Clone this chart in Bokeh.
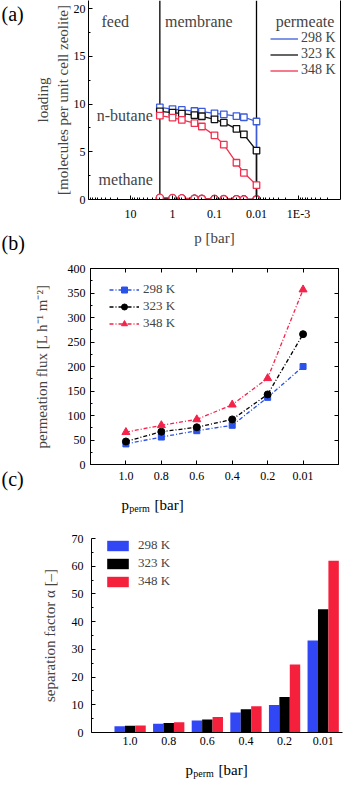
from bokeh.plotting import figure
from bokeh.layouts import column, row
from bokeh.models import (Range1d, FixedTicker, LinearAxis, Label, Span, Legend,
                          LegendItem, ColumnDataSource)
from bokeh.core.properties import value
from bokeh.transform import dodge
from bokeh.embed import file_html
from bokeh.resources import INLINE

FONT = "Liberation Serif"

# ---------------- data: panel (a) ----------------
p_bar = [2, 1, 0.6, 0.3, 0.2, 0.1, 0.06, 0.03, 0.02, 0.01]
butane_298 = [9.65, 9.47, 9.38, 9.27, 9.2, 9.03, 8.92, 8.74, 8.62, 8.17]
butane_323 = [9.23, 9.1, 9.0, 8.85, 8.72, 8.4, 8.05, 7.4, 6.83, 5.13]
butane_348 = [8.78, 8.58, 8.34, 8.0, 7.65, 6.72, 5.74, 3.85, 2.8, 1.5]
methane_298 = [0.12, 0.1, 0.08, 0.06, 0.05, 0.04, 0.03, 0.02, 0.01, 0.0]
methane_323 = [0.15, 0.12, 0.1, 0.08, 0.06, 0.05, 0.04, 0.02, 0.01, 0.0]
methane_348 = [0.2, 0.17, 0.14, 0.1, 0.08, 0.06, 0.05, 0.03, 0.02, 0.0]
temps = ["298 K", "323 K", "348 K"]
boundaries = [2, 0.01]
decade_ticks = [10, 1, 0.1, 0.01, 0.001]
decade_labels = ["10", "1", "0.1", "0.01", "1E-3"]

# ---------------- data: panel (b) ----------------
p_perm = ["1.0", "0.8", "0.6", "0.4", "0.2", "0.01"]
flux_298 = [42, 56, 69, 80, 137, 200]
flux_323 = [47, 67, 76, 92, 143, 266]
flux_348 = [66, 80, 92, 122, 176, 357]

# ---------------- data: panel (c) ----------------
sep_298 = [2.3, 3.2, 4.3, 7.2, 9.9, 33.2]
sep_323 = [2.4, 3.4, 4.7, 8.4, 12.8, 44.5]
sep_348 = [2.5, 3.7, 5.6, 9.5, 24.5, 62.0]

x_pos = list(range(1, len(p_perm) + 1))

BLUE_A, BLACK_A, RED_A = "#3b5bdb", "#111111", "#f2304f"
BLUE_B, BLACK_B, RED_B = "#2a52e8", "#000000", "#f5224a"
BLUE_C, BLACK_C, RED_C = "#3146f5", "#000000", "#f5203c"


def no_align(f):
    if "frame_align" in f.properties():
        f.frame_align = False
    return f


def style_axis(ax, size="12px"):
    ax.major_label_text_font = FONT
    ax.major_label_text_font_size = size
    ax.major_label_text_color = "black"
    ax.axis_label_text_font = FONT
    ax.axis_label_text_font_style = "normal"
    ax.axis_label_text_font_size = "15px"
    ax.axis_line_color = "black"
    ax.major_tick_line_color = "black"
    ax.minor_tick_line_color = "black"
    ax.major_tick_in = 4
    ax.major_tick_out = 0
    ax.minor_tick_in = 2
    ax.minor_tick_out = 0


def blank_axis(ax, ticks):
    ax.major_label_overrides = {t: "" for t in ticks}
    ax.major_label_text_color = None
    ax.major_label_text_font_size = "1px"
    ax.major_label_standoff = 0


def text_strip(width, height):
    f = figure(width=width, height=height, x_range=Range1d(0, width), y_range=Range1d(0, height),
               output_backend="svg", toolbar_location=None, x_axis_location=None,
               y_axis_location=None, min_border_left=0, min_border_right=0,
               min_border_top=0, min_border_bottom=0)
    f.grid.visible = False
    f.outline_line_color = None
    return no_align(f)


def add_text(f, x, y, txt, size, align="left", baseline="middle"):
    f.text(x=[x], y=[y], text=[txt], text_font=value(FONT), text_font_size=value(size),
           text_align=align, text_baseline=baseline, text_color="black")


def pperm_label(f, cx, base_y):
    x0 = cx - 31
    add_text(f, x0, base_y, "p", "15px", baseline="alphabetic")
    add_text(f, x0 + 7.8, base_y - 3.7, "perm", "10px", baseline="alphabetic")
    add_text(f, x0 + 33, base_y, "[bar]", "15px", baseline="alphabetic")


# ======================= panel (a) =======================
pa = figure(width=315, height=258, x_axis_type="log", x_range=Range1d(100, 1e-4),
            y_range=Range1d(0, 20.85), output_backend="svg", toolbar_location=None,
            min_border_left=58, min_border_right=5, min_border_top=0, min_border_bottom=59)
no_align(pa)
pa.grid.visible = False
pa.outline_line_color = None

minor_log = [m * 10.0 ** e for e in range(-4, 2) for m in range(2, 10)]
pa.xaxis.ticker = FixedTicker(ticks=decade_ticks, minor_ticks=minor_log)
pa.xaxis.major_label_overrides = {t: l for t, l in zip(decade_ticks, decade_labels)}
pa.yaxis.ticker = FixedTicker(ticks=[0, 5, 10, 15, 20], minor_ticks=[2.5, 7.5, 12.5, 17.5])
style_axis(pa.xaxis[0])
style_axis(pa.yaxis[0])
pa.xaxis.major_label_standoff = 7
pa.yaxis.major_label_standoff = 3
pa.xaxis.axis_label = "p [bar]"
pa.xaxis.axis_label_standoff = 6
pa.yaxis.axis_label = "loading\n[molecules per unit cell zeolite]"
pa.yaxis.axis_label_standoff = 0
pa_right = LinearAxis(ticker=FixedTicker(ticks=[]))
style_axis(pa_right)
pa.add_layout(pa_right, "right")

for b in boundaries:
    pa.add_layout(Span(location=b, dimension="height", line_color="black", line_width=1.3,
                       level="underlay"))

# drops of each loading curve to the permeate side (zero loading)
for load, col in [(butane_348, RED_A), (butane_298, BLUE_A), (butane_323, BLACK_A)]:
    pa.segment(x0=[p_bar[-1]], y0=[load[-1]], x1=[p_bar[-1]], y1=[0], line_color=col,
               line_width=1.3)

line_rs = []
for load, col in [(butane_298, BLUE_A), (butane_323, BLACK_A), (butane_348, RED_A)]:
    r = pa.line(p_bar, load, line_color=col, line_width=1.3)
    pa.scatter(p_bar, load, marker="square", size=6.5, line_color=col, fill_color="white",
               line_width=1.3)
    line_rs.append(r)
for load, col in [(methane_298, BLUE_A), (methane_323, BLACK_A), (methane_348, RED_A)]:
    pa.line(p_bar, load, line_color=col, line_width=1.3)
    pa.scatter(p_bar, load, marker="circle", size=7, line_color=col, fill_color="white",
               line_width=1.3)

leg_a = Legend(items=[LegendItem(label=t, renderers=[r]) for t, r in zip(temps, line_rs)],
               location=(182, 121), orientation="vertical")
leg_a.glyph_width = 28
leg_a.glyph_height = 15
leg_a.label_height = 15
leg_a.spacing = 0
leg_a.padding = 0
leg_a.margin = 0
leg_a.label_standoff = 3
leg_a.border_line_color = None
leg_a.background_fill_alpha = 0
leg_a.label_text_font = FONT
leg_a.label_text_font_size = "14px"
pa.add_layout(leg_a)

for txt, x, y in [("feed", 23, 18.7), ("membrane", 0.236, 18.7), ("permeate", 7.0e-4, 18.7),
                  ("n-butane", 13.7, 8.75), ("methane", 13.0, 2.1)]:
    pa.add_layout(Label(x=x, y=y, text=txt, text_font=FONT, text_font_size="16px",
                        text_align="center", text_baseline="middle"))

la = text_strip(30, 258)
add_text(la, 1, 245, "(a)", "20px")
add_text(la, 1, 16, "(b)", "20px")

# ======================= panel (b) =======================
pb = figure(width=315, height=233, x_range=Range1d(0, 7), y_range=Range1d(0, 400),
            output_backend="svg", toolbar_location=None,
            min_border_left=58, min_border_right=7, min_border_top=10, min_border_bottom=27)
no_align(pb)
pb.grid.visible = False
pb.outline_line_color = "black"
pb.xaxis.ticker = FixedTicker(ticks=x_pos)
pb.xaxis.major_label_overrides = {x: l for x, l in zip(x_pos, p_perm)}
pb.yaxis.ticker = FixedTicker(ticks=list(range(0, 401, 50)), minor_ticks=list(range(25, 400, 50)))
style_axis(pb.xaxis[0])
style_axis(pb.yaxis[0])
pb.xaxis.major_label_standoff = 7
pb.yaxis.major_label_standoff = 5
pb.yaxis.axis_label = "permeation flux [L h\u207b\u00b9 m\u207b\u00b2]"
pb.yaxis.axis_label_standoff = 15
pb_top = LinearAxis(ticker=FixedTicker(ticks=x_pos))
style_axis(pb_top)
blank_axis(pb_top, x_pos)
pb.add_layout(pb_top, "above")
right_ticks = list(range(0, 401, 50))
pb_right = LinearAxis(ticker=FixedTicker(ticks=right_ticks))
style_axis(pb_right)
blank_axis(pb_right, right_ticks)
pb.add_layout(pb_right, "right")

items_b = []
for vals, col, mk, sz, t in [(flux_298, BLUE_B, "square", 6, temps[0]),
                             (flux_323, BLACK_B, "circle", 7, temps[1]),
                             (flux_348, RED_B, "triangle", 8, temps[2])]:
    rl = pb.line(x_pos, vals, line_color=col, line_width=1.3, line_dash="4 2 1 2")
    rs = pb.scatter(x_pos, vals, marker=mk, size=sz, line_color=col, fill_color=col)
    items_b.append(LegendItem(label=t, renderers=[rl, rs]))
leg_b = Legend(items=items_b, location=(19, 133), orientation="vertical")
leg_b.glyph_width = 30
leg_b.glyph_height = 15
leg_b.label_height = 15
leg_b.spacing = 1
leg_b.padding = 0
leg_b.margin = 0
leg_b.label_standoff = 4
leg_b.border_line_color = None
leg_b.background_fill_alpha = 0
leg_b.label_text_font = FONT
leg_b.label_text_font_size = "13px"
pb.add_layout(leg_b)

lb = text_strip(30, 233)
add_text(lb, 1, 12.4, "(c)", "20px")

sb = text_strip(345, 24)
pperm_label(sb, 152, 10.7)

# ======================= panel (c) =======================
pc = figure(width=345, height=240, x_range=Range1d(0, 6.5), y_range=Range1d(0, 70),
            output_backend="svg", toolbar_location=None,
            min_border_left=91, min_border_right=3, min_border_top=23, min_border_bottom=23)
no_align(pc)
pc.grid.visible = False
pc.outline_line_color = None
pc.xaxis.ticker = FixedTicker(ticks=x_pos)
pc.xaxis.major_label_overrides = {x: l for x, l in zip(x_pos, p_perm)}
pc.yaxis.ticker = FixedTicker(ticks=list(range(0, 71, 10)), minor_ticks=list(range(5, 70, 10)))
style_axis(pc.xaxis[0])
style_axis(pc.yaxis[0])
pc.xaxis.major_tick_in = 0
pc.xaxis.minor_tick_in = 0
pc.xaxis.major_label_standoff = 4
pc.yaxis.major_label_standoff = 8
pc.yaxis.axis_label = "separation factor \u03b1 [\u2013]"
pc.yaxis.axis_label_standoff = 11

src_c = ColumnDataSource(dict(x=x_pos, s298=sep_298, s323=sep_323, s348=sep_348))
items_c = []
for key, off, col, t in [("s298", -0.27, BLUE_C, temps[0]), ("s323", 0.0, BLACK_C, temps[1]),
                         ("s348", 0.27, RED_C, temps[2])]:
    r = pc.vbar(x=dodge("x", off, range=pc.x_range), top=key, width=0.27, source=src_c,
                fill_color=col, line_color=None)
    items_c.append(LegendItem(label=t, renderers=[r]))
leg_c = Legend(items=items_c, location=(13, 143), orientation="vertical")
leg_c.glyph_width = 27
leg_c.glyph_height = 13
leg_c.label_height = 13
leg_c.spacing = 2
leg_c.padding = 0
leg_c.margin = 0
leg_c.label_standoff = 7
leg_c.border_line_color = None
leg_c.background_fill_alpha = 0
leg_c.label_text_font = FONT
leg_c.label_text_font_size = "13px"
pc.add_layout(leg_c)

sc = text_strip(345, 25)
pperm_label(sc, 216, 10.5)

layout = column(row(la, pa, spacing=0), row(lb, pb, spacing=0), sb, pc, sc, spacing=0)
open("out.html", "w").write(file_html(layout, INLINE))
